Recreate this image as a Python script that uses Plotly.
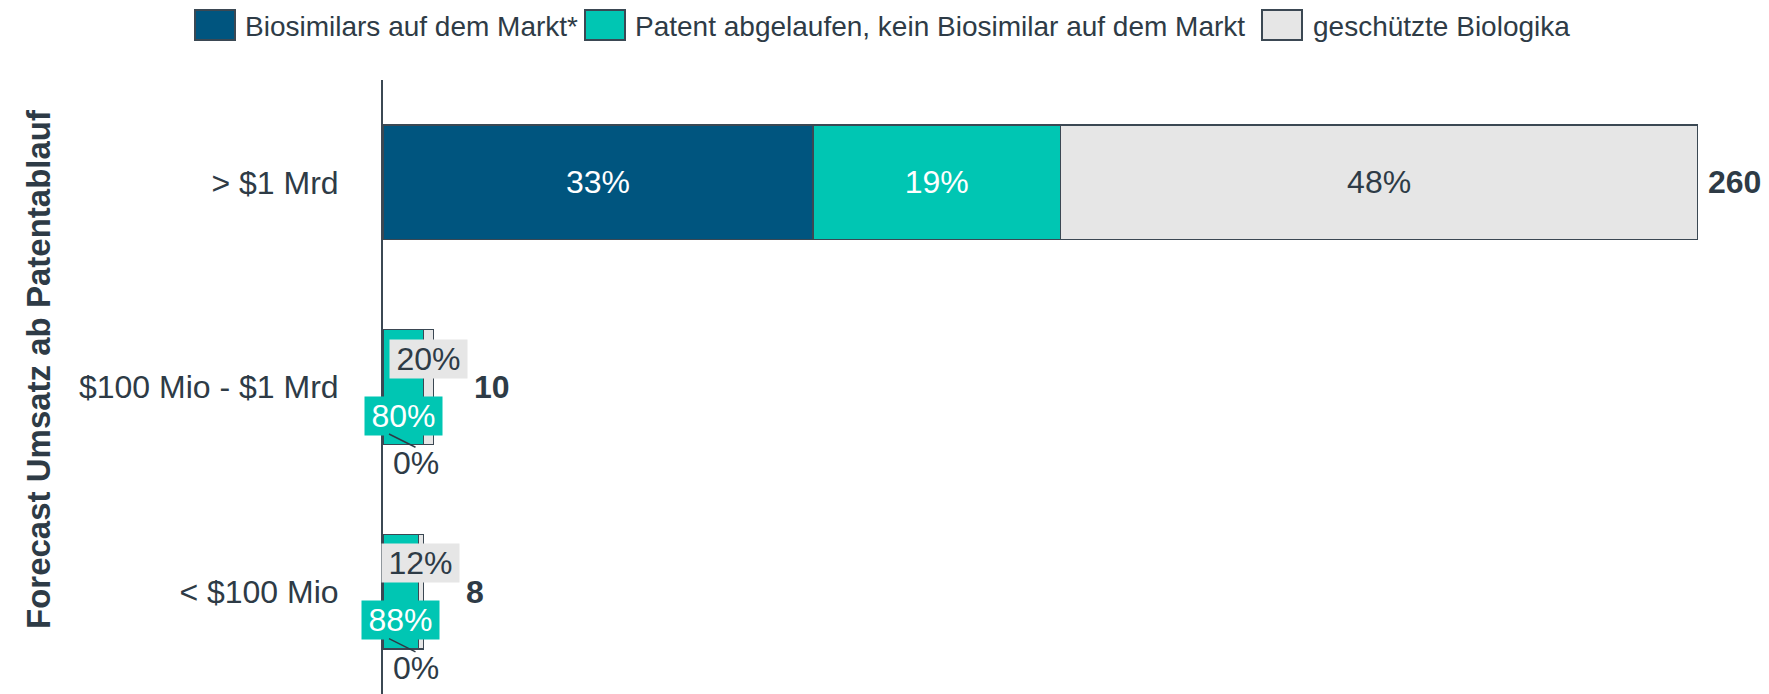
import plotly.graph_objects as go

# ---------------- data ----------------
categories = ["> $1 Mrd", "$100 Mio - $1 Mrd", "< $100 Mio"]
series_names = ["Biosimilars auf dem Markt*",
                "Patent abgelaufen, kein Biosimilar auf dem Markt",
                "geschützte Biologika"]
biosimilars = [85, 0, 0]
patent_expired = [49, 8, 7]
protected = [126, 2, 1]
totals = [260, 10, 8]
pct_biosimilars = [33, 0, 0]
pct_patent = [19, 80, 88]
pct_protected = [48, 20, 12]
y_title = "Forecast Umsatz ab Patentablauf"

# ---------------- style ----------------
OFF = 8                          # default page body margin of the html page
W, H = 1769 - OFF, 694 - OFF
ML, MR, MT, MB = 383 - OFF, 60, 80 - OFF, 0
plot_w = W - ML - MR
plot_h = H - MT - MB
PPU = 5.0565                     # pixels per unit on x
xmax = plot_w / PPU

FONT = "Liberation Sans, Arial, sans-serif"
TXT = "#2e3b46"
EDGE = "#3b4853"
C_BIO = "#00557f"
C_PAT = "#00c6b3"
C_PRO = "#e6e6e6"

series = [
    (series_names[0], biosimilars, pct_biosimilars, C_BIO, "white"),
    (series_names[1], patent_expired, pct_patent, C_PAT, "white"),
    (series_names[2], protected, pct_protected, C_PRO, TXT),
]

# rows whose bar is too short for inside labels get call-out labels
small = [t * PPU < 200 for t in totals]

fig = go.Figure()
for name, vals, pcts, col, tcol in series:
    fig.add_trace(go.Bar(
        y=categories, x=vals, name=name, orientation="h",
        marker=dict(color=col, line=dict(color=EDGE, width=1.5)),
        width=0.56,
        text=["" if small[i] else f"{p}%" for i, p in enumerate(pcts)],
        textposition="inside", insidetextanchor="middle",
        textangle=0, constraintext="none",
        textfont=dict(family=FONT, size=32, color=tcol),
        showlegend=False, hoverinfo="x+y+name",
    ))

annotations = []
for i, cat in enumerate(categories):
    b, p, g = biosimilars[i], patent_expired[i], protected[i]
    if small[i]:
        # grey call-out above, teal call-out below
        annotations.append(dict(
            x=b + p + g / 2, y=cat, xref="x", yref="y", text=f"{pct_protected[i]}%",
            showarrow=False, bgcolor=C_PRO, width=75, height=36, yshift=28.5,
            font=dict(family=FONT, size=32, color=TXT)))
        annotations.append(dict(
            x=b + p / 2, y=cat, xref="x", yref="y", text=f"{pct_patent[i]}%",
            showarrow=False, bgcolor=C_PAT, width=75, height=36, yshift=-28.5,
            font=dict(family=FONT, size=32, color="white")))
        # leader line + 0% label for the biosimilar share
        annotations.append(dict(
            x=b / 2, y=cat, xref="x", yref="y", text=" ",
            showarrow=True, arrowhead=0, arrowwidth=1.5, arrowcolor=TXT,
            ax=28, ay=14, xshift=6, yshift=-47, standoff=0, startstandoff=0,
            font=dict(size=1)))
        annotations.append(dict(
            x=b / 2, y=cat, xref="x", yref="y", text=f"{pct_biosimilars[i]}%",
            showarrow=False, xshift=33, yshift=-76,
            font=dict(family=FONT, size=32, color=TXT)))
        right_px = (b + p + g / 2) * PPU + 37.5 + 6
        shift = right_px - totals[i] * PPU
    else:
        shift = 8
    annotations.append(dict(
        x=totals[i], y=cat, xref="x", yref="y", text=f"<b>{totals[i]}</b>",
        showarrow=False, xanchor="left", xshift=shift,
        font=dict(family=FONT, size=32, color=TXT)))

# y-axis title
annotations.append(dict(
    x=0, y=0.5, xref="paper", yref="paper", text=f"<b>{y_title}</b>",
    textangle=-90, showarrow=False, xanchor="center", yanchor="middle",
    xshift=(38 - OFF) - ML, yshift=(MT + plot_h / 2) - (369 - OFF),
    font=dict(family=FONT, size=33, color=TXT)))

# manual legend (large swatches); positions in page pixels
shapes = []
legend_items = [(195, 235, 243, series_names[0], C_BIO),
                (585, 625, 633, series_names[1], C_PAT),
                (1262, 1302, 1311, series_names[2], C_PRO)]
for sx0, sx1, tx, name, col in legend_items:
    shapes.append(dict(
        type="rect", xref="paper", yref="paper", xsizemode="pixel", ysizemode="pixel",
        xanchor=0, yanchor=1,
        x0=(sx0 - OFF) - ML, x1=(sx1 - OFF) - ML,
        y0=MT - (10 - OFF), y1=MT - (40 - OFF),
        fillcolor=col, line=dict(color=EDGE, width=2), layer="above"))
    annotations.append(dict(
        x=0, y=1, xref="paper", yref="paper", text=name, showarrow=False,
        xanchor="left", yanchor="middle", xshift=(tx - OFF) - ML, yshift=MT - (26 - OFF),
        font=dict(family=FONT, size=28, color=TXT)))

fig.update_layout(
    width=W, height=H, barmode="stack",
    margin=dict(l=ML, r=MR, t=MT, b=MB, pad=0),
    paper_bgcolor="white", plot_bgcolor="white",
    font=dict(family=FONT, color=TXT),
    showlegend=False,
    xaxis=dict(range=[0, xmax], visible=False, fixedrange=True),
    yaxis=dict(
        categoryorder="array", categoryarray=categories,
        range=[2.5, -0.5], showgrid=False, zeroline=False,
        showline=True, linecolor=EDGE, linewidth=2,
        ticks="", ticklabelstandoff=36,
        tickfont=dict(family=FONT, size=32, color=TXT)),
    annotations=annotations, shapes=shapes,
)

fig.write_html("out.html")
